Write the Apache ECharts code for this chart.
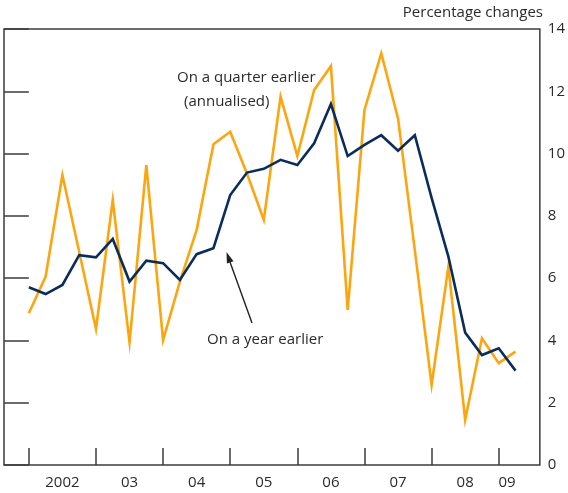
<!DOCTYPE html>
<html>
<head>
<meta charset="utf-8">
<script src="https://cdn.jsdelivr.net/npm/echarts@6/dist/echarts.min.js"></script>
<style>
html,body{margin:0;padding:0;background:#fff;}
#chart{width:568px;height:493px;}
</style>
</head>
<body>
<div id="chart"></div>
<script>
// Quarterly categories 2002 Q1 .. 2009 Q2
const quarters = [
  '2002 Q1','2002 Q2','2002 Q3','2002 Q4',
  '2003 Q1','2003 Q2','2003 Q3','2003 Q4',
  '2004 Q1','2004 Q2','2004 Q3','2004 Q4',
  '2005 Q1','2005 Q2','2005 Q3','2005 Q4',
  '2006 Q1','2006 Q2','2006 Q3','2006 Q4',
  '2007 Q1','2007 Q2','2007 Q3','2007 Q4',
  '2008 Q1','2008 Q2','2008 Q3','2008 Q4',
  '2009 Q1','2009 Q2'
];
const yearLabels = ['2002','03','04','05','06','07','08','09'];
// On a year earlier (%)
const yearEarlier = [
  5.71, 5.49, 5.78, 6.74,
  6.67, 7.26, 5.89, 6.56,
  6.48, 5.94, 6.77, 6.96,
  8.67, 9.39, 9.51, 9.80,
  9.63, 10.33, 11.59, 9.92,
  10.28, 10.59, 10.09, 10.59,
  8.58, 6.69, 4.25, 3.53,
  3.75, 3.03
];
// On a quarter earlier, annualised (%)
const quarterEarlier = [
  4.87, 6.05, 9.31, 6.85,
  4.37, 8.51, 3.94, 9.63,
  4.01, 5.89, 7.55, 10.30,
  10.70, 9.35, 7.87, 11.83,
  9.92, 12.04, 12.81, 4.98,
  11.40, 13.22, 11.13, 6.90,
  2.57, 6.37, 1.45, 4.07,
  3.27, 3.64
];
const yTicks = [0, 2, 4, 6, 8, 10, 12, 14];

const FONT = '"Open Sans", "Noto Sans", sans-serif';
const TEXT = '#2b2b2b';
const FRAME = '#3c3c3c';

// Year boundaries (index of each year's first quarter) and label positions
const yearStarts = [];
quarters.forEach((q, i) => { if (q.endsWith('Q1')) yearStarts.push(i); });
const labelPos = yearStarts.map((s, k) => {
  const next = k + 1 < yearStarts.length ? yearStarts[k + 1] : quarters.length - 1;
  return (s + next) / 2;
});
const labelMap = {};
labelPos.forEach((p, k) => { labelMap[p] = yearLabels[k]; });

const chart = echarts.init(document.getElementById('chart'), null, {renderer: 'canvas'});
chart.setOption({
  animation: false,
  backgroundColor: '#fff',
  grid: {
    left: 4, right: 25, top: 29, bottom: 28,
    show: true, borderColor: FRAME, borderWidth: 1.5, backgroundColor: 'transparent'
  },
  xAxis: {
    type: 'value',
    min: -1.48, max: 30.45,
    axisLine: {show: false},
    splitLine: {show: false},
    axisTick: {
      show: true, inside: true, length: 17, customValues: yearStarts,
      lineStyle: {color: FRAME, width: 1.5}
    },
    axisLabel: {
      show: true, customValues: labelPos, margin: 10,
      color: TEXT, fontFamily: FONT, fontSize: 15,
      formatter: v => labelMap[v] || ''
    }
  },
  yAxis: [{
    type: 'value', position: 'right', min: 0, max: 14, interval: 2,
    axisLine: {show: false},
    splitLine: {show: false},
    axisTick: {show: true, inside: true, length: 16, lineStyle: {color: FRAME, width: 1.5}},
    axisLabel: {
      show: true, margin: 8, color: TEXT, fontFamily: FONT, fontSize: 15,
      customValues: yTicks
    }
  }, {
    type: 'value', position: 'left', min: 0, max: 14, interval: 2,
    axisLine: {show: false},
    splitLine: {show: false},
    axisTick: {show: true, inside: true, length: 16, lineStyle: {color: FRAME, width: 1.5}},
    axisLabel: {show: false}
  }],
  series: [{
    name: 'On a quarter earlier (annualised)',
    type: 'line',
    data: quarterEarlier.map((v, i) => [i, v]),
    showSymbol: false,
    lineStyle: {color: '#FDA50F', width: 2.6, join: 'miter'},
    z: 2
  }, {
    name: 'On a year earlier',
    type: 'line',
    data: yearEarlier.map((v, i) => [i, v]),
    showSymbol: false,
    lineStyle: {color: '#0B2D5C', width: 2.6, join: 'miter'},
    z: 3
  }],
  graphic: [
    {type: 'text', style: {x: 543, y: 13, text: 'Percentage changes', textAlign: 'right', textVerticalAlign: 'middle', font: '15px ' + FONT, fill: TEXT}},
    {type: 'text', style: {x: 177, y: 78, text: 'On a quarter earlier', textAlign: 'left', textVerticalAlign: 'middle', font: '15px ' + FONT, fill: TEXT}},
    {type: 'text', style: {x: 184, y: 102, text: '(annualised)', textAlign: 'left', textVerticalAlign: 'middle', font: '15px ' + FONT, fill: TEXT}},
    {type: 'text', style: {x: 207, y: 340, text: 'On a year earlier', textAlign: 'left', textVerticalAlign: 'middle', font: '15px ' + FONT, fill: TEXT}},
    {type: 'line', shape: {x1: 252, y1: 323, x2: 230, y2: 262}, style: {stroke: '#222', lineWidth: 1.4}},
    {type: 'polygon', shape: {points: [[226.5, 252], [233.5, 261.2], [226.9, 263.6]]}, style: {fill: '#222'}}
  ]
});
</script>
</body>
</html>
